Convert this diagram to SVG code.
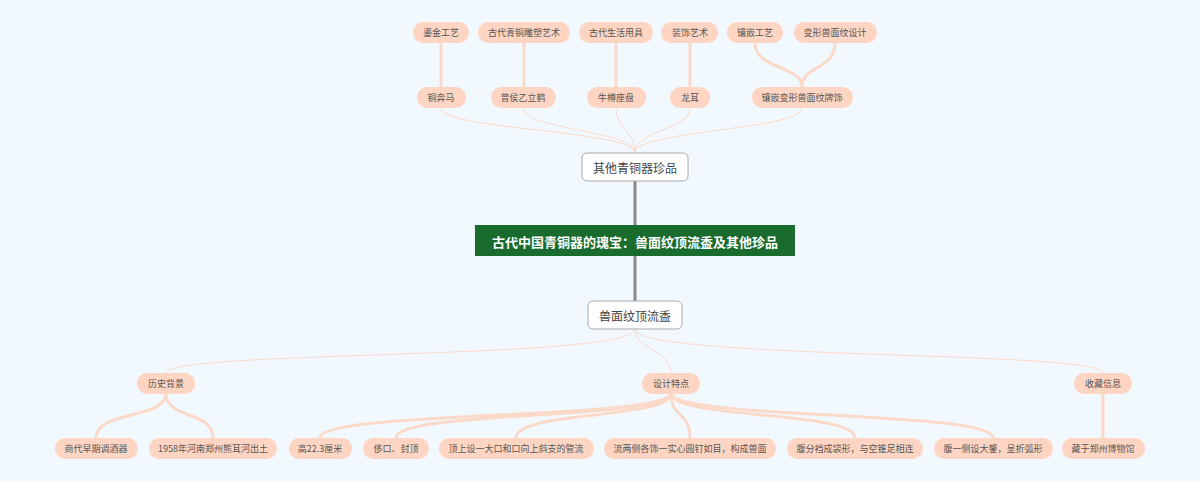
<svg xmlns="http://www.w3.org/2000/svg" width="1200" height="482" viewBox="0 0 1200 482">
<style>
text{font-family:"Noto Sans CJK SC","Noto Sans",sans-serif;text-anchor:middle;dominant-baseline:central}
.p rect{fill:#fdd5c2}
.p text{font-size:9px;fill:#555}
.m rect{fill:#fff;stroke:#aaa;stroke-width:1}
.m text{font-size:12px;fill:#444}
.c path{fill:none;stroke:#fbd9c9}
</style>
<rect width="1200" height="482" fill="#f2f9fe"/>
<g class="c">
<path d="M635 256V181M635 225V329" stroke="#888" style="stroke:#8a8a8a" stroke-width="3"/>
<g stroke-width="1">
<path d="M635 153C635 130 441 130 441 108"/><path d="M635 153C635 130 523 130 523 108"/><path d="M635 153C635 130 616 130 616 108"/><path d="M635 153C635 130 690 130 690 108"/><path d="M635 153C635 130 802 130 802 108"/>
<path d="M635 329C635 360 166 350 166 373"/><path d="M635 329C635 350 671 350 671 373"/><path d="M635 329C635 360 1103 350 1103 373"/>
</g>
<g stroke-width="3">
<path d="M441 43V87M524 43V87M616 43V87M690 43V87"/>
<path d="M755 43C755 70 802 65 802 87M835 43C835 70 802 65 802 87"/>
<path d="M166 393C166 420 96 410 96 438M166 393C166 420 213 410 213 438"/>
<path d="M671 393C671 420 320 410 320 438M671 393C671 420 396 410 396 438M671 393C671 420 516 410 516 438M671 393C671 420 690 410 690 438M671 393C671 420 855 410 855 438M671 393C671 420 993 410 993 438M1103 393V438"/>
</g>
</g>
<g id="root"><rect x="475" y="225" width="320" height="31" fill="#1a6b2e"/><text x="635" y="241" font-size="13" font-weight="bold" fill="#fff">古代中国青铜器的瑰宝：兽面纹顶流盉及其他珍品</text></g>
<g id="n1" class="m"><rect x="582" y="153" width="106" height="28" rx="5"/><text x="635" y="167">其他青铜器珍品</text></g>
<g id="n2" class="m"><rect x="588" y="301" width="94" height="28" rx="5"/><text x="635" y="315">兽面纹顶流盉</text></g>
<g class="p">
<g id="t1"><rect x="413" y="22" width="56" height="21" rx="10"/><text x="441" y="32">鎏金工艺</text></g>
<g id="t2"><rect x="478" y="22" width="92" height="21" rx="10"/><text x="524" y="32">古代青铜雕塑艺术</text></g>
<g id="t3"><rect x="579" y="22" width="74" height="21" rx="10"/><text x="616" y="32">古代生活用具</text></g>
<g id="t4"><rect x="661" y="22" width="57" height="21" rx="10"/><text x="690" y="32">装饰艺术</text></g>
<g id="t5"><rect x="727" y="22" width="56" height="21" rx="10"/><text x="755" y="32">镶嵌工艺</text></g>
<g id="t6"><rect x="794" y="22" width="83" height="21" rx="10"/><text x="835" y="32">变形兽面纹设计</text></g>
<g id="r1"><rect x="417" y="87" width="49" height="21" rx="10"/><text x="441" y="97">铜奔马</text></g>
<g id="r2"><rect x="491" y="87" width="65" height="21" rx="10"/><text x="523" y="97">曾侯乙立鹤</text></g>
<g id="r3"><rect x="587" y="87" width="59" height="21" rx="10"/><text x="616" y="97">牛樽座盘</text></g>
<g id="r4"><rect x="670" y="87" width="40" height="21" rx="10"/><text x="690" y="97">龙耳</text></g>
<g id="r5"><rect x="752" y="87" width="101" height="21" rx="10"/><text x="802" y="97">镶嵌变形兽面纹牌饰</text></g>
<g id="b1"><rect x="137" y="373" width="58" height="21" rx="10"/><text x="166" y="383">历史背景</text></g>
<g id="b2"><rect x="642" y="373" width="58" height="21" rx="10"/><text x="671" y="383">设计特点</text></g>
<g id="b3"><rect x="1074" y="373" width="58" height="21" rx="10"/><text x="1103" y="383">收藏信息</text></g>
<g id="l1"><rect x="55" y="438" width="83" height="21" rx="10"/><text x="96" y="448">商代早期调酒器</text></g>
<g id="l2"><rect x="149" y="438" width="128" height="21" rx="10"/><text x="213" y="448">1958年河南郑州熊耳河出土</text></g>
<g id="l3"><rect x="289" y="438" width="63" height="21" rx="10"/><text x="320" y="448">高22.3厘米</text></g>
<g id="l4"><rect x="363" y="438" width="66" height="21" rx="10"/><text x="396" y="448">侈口、封顶</text></g>
<g id="l5"><rect x="439" y="438" width="155" height="21" rx="10"/><text x="516" y="448">顶上设一大口和口向上斜支的管流</text></g>
<g id="l6"><rect x="604" y="438" width="172" height="21" rx="10"/><text x="690" y="448">流两侧各饰一实心圆钉如目，构成兽面</text></g>
<g id="l7"><rect x="787" y="438" width="136" height="21" rx="10"/><text x="855" y="448">腹分裆成袋形，与空锥足相连</text></g>
<g id="l8"><rect x="934" y="438" width="119" height="21" rx="10"/><text x="993" y="448">腹一侧设大鋬，呈折弧形</text></g>
<g id="l9"><rect x="1062" y="438" width="83" height="21" rx="10"/><text x="1103" y="448">藏于郑州博物馆</text></g>
</g>
</svg>
